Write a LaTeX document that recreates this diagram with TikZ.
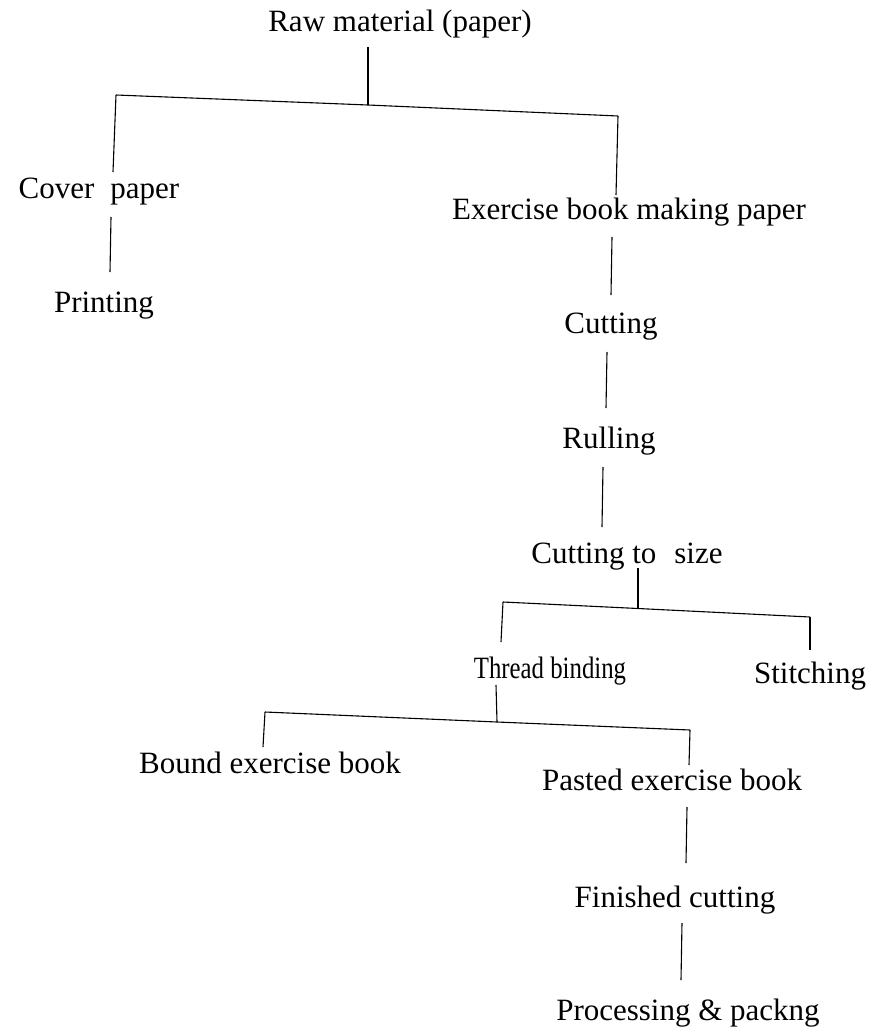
\documentclass[tikz,border=0pt]{standalone}
\usepackage{fontspec}
\setmainfont{Liberation Serif}
\begin{document}
\begin{tikzpicture}[x=1pt,y=-1pt,
  lab/.style={anchor=base,inner sep=0pt,font=\fontsize{31}{36}\selectfont},
  conn/.style={line width=1.1pt,black}]
\useasboundingbox[fill=white] (0,0) rectangle (870,1036);
% labels
\node[lab] (raw) at (400,31) {Raw material (paper)};
\node[lab] (cover) at (99,198) {Cover\hspace{16pt}paper};
\node[lab] (print) at (104,312) {Printing};
\node[lab] (ex) at (629,219) {Exercise book making paper};
\node[lab] (cut) at (611,333) {Cutting};
\node[lab] (rul) at (609,448) {Rulling};
\node[lab] (cts) at (627,563) {Cutting to\hspace{18pt}size};
\node[lab] (thr) at (550,678) {\scalebox{0.8}[1]{Thread binding}};
\node[lab] (sti) at (810,683) {Stitching};
\node[lab] (bound) at (270,773) {Bound exercise book};
\node[lab] (past) at (672,790) {Pasted exercise book};
\node[lab] (fin) at (675,907) {Finished cutting};
\node[lab] (proc) at (688,1020) {Processing \& packng};
% connector points
\coordinate (rawS) at (368,47);
\coordinate (b1m) at (368,105);
\coordinate (b1l) at (116,95);
\coordinate (b1r) at (618,116);
\coordinate (coverN) at (113,172);
\coordinate (coverS) at (111,217);
\coordinate (printN) at (110,272);
\coordinate (exN) at (616,195);
\coordinate (exS) at (612,237);
\coordinate (cutN) at (611,295);
\coordinate (cutS) at (607,352);
\coordinate (rulN) at (606,408);
\coordinate (rulS) at (603,467);
\coordinate (ctsN) at (602,527);
\coordinate (ctsS) at (638,568);
\coordinate (b2m) at (638,608.5);
\coordinate (b2l) at (503,602);
\coordinate (b2r) at (810,617);
\coordinate (thrN) at (501,642);
\coordinate (stiN) at (810,650);
\coordinate (thrS) at (496,685);
\coordinate (b3m) at (497,722);
\coordinate (b3l) at (265,712);
\coordinate (b3r) at (690,730);
\coordinate (boundN) at (263,747);
\coordinate (pastN) at (689,765);
\coordinate (pastS) at (687,807);
\coordinate (finN) at (686,863);
\coordinate (finS) at (682,923);
\coordinate (procN) at (681,980);
% connectors
\draw[conn] (rawS) -- (b1m);
\draw[conn] (b1l) -- (b1m) -- (b1r);
\draw[conn] (b1l) -- (coverN);
\draw[conn] (coverS) -- (printN);
\draw[conn] (b1r) -- (exN);
\draw[conn] (exS) -- (cutN);
\draw[conn] (cutS) -- (rulN);
\draw[conn] (rulS) -- (ctsN);
\draw[conn] (ctsS) -- (b2m);
\draw[conn] (b2l) -- (b2m) -- (b2r);
\draw[conn] (b2l) -- (thrN);
\draw[conn] (b2r) -- (stiN);
\draw[conn] (thrS) -- (b3m);
\draw[conn] (b3l) -- (b3m) -- (b3r);
\draw[conn] (b3l) -- (boundN);
\draw[conn] (b3r) -- (pastN);
\draw[conn] (pastS) -- (finN);
\draw[conn] (finS) -- (procN);
\end{tikzpicture}
\end{document}
